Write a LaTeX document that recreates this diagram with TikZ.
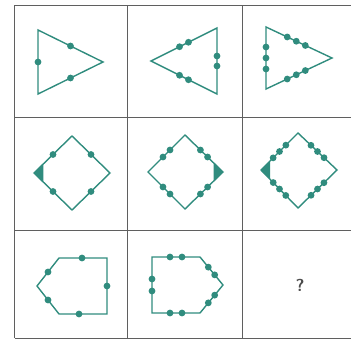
\documentclass[tikz,border=0pt]{standalone}
\usepackage{tikz}
\usetikzlibrary{calc}
\definecolor{figteal}{RGB}{48,140,126}
\definecolor{gridgray}{RGB}{95,95,95}

% dots centred on the middle of edge #1--#2, shifted by the offsets in #3
\newcommand{\edgedots}[3]{%
    \foreach \d in {#3} {
        \fill[figteal] ($(#1)!0.5!(#2)!\d pt!(#2)$) circle (3.4pt);
    }}

\begin{document}
\begin{tikzpicture}[x=1pt, y=-1pt]
    \tikzstyle{grid} = [draw=gridgray, line width=1pt]
    \tikzstyle{figure} = [draw=figteal, line width=1.4pt, line join=miter]

    \useasboundingbox (0,0) rectangle (351,340);

    % grid
    \foreach \x in {14.5, 127.5, 242} {
        \draw[grid] (\x,5) -- (\x,338);
    }
    \foreach \y in {5, 117, 230, 338} {
        \draw[grid] (14.5,\y) -- (351,\y);
    }

    % row 1
    \coordinate (a1) at (38,30);
    \coordinate (a2) at (103,62);
    \coordinate (a3) at (38,94);
    \draw[figure] (a1) -- (a2) -- (a3) -- cycle;
    \edgedots{a1}{a2}{0}
    \edgedots{a2}{a3}{0}
    \edgedots{a3}{a1}{0}

    \coordinate (b1) at (151,61);
    \coordinate (b2) at (217,28);
    \coordinate (b3) at (217,94);
    \draw[figure] (b1) -- (b2) -- (b3) -- cycle;
    \edgedots{b1}{b2}{-5,5}
    \edgedots{b2}{b3}{-5,5}
    \edgedots{b3}{b1}{-5,5}

    \coordinate (c1) at (266,27);
    \coordinate (c2) at (332,58);
    \coordinate (c3) at (266,89);
    \draw[figure] (c1) -- (c2) -- (c3) -- cycle;
    \edgedots{c1}{c2}{-13,-3,7}
    \edgedots{c2}{c3}{-7,3,13}
    \edgedots{c3}{c1}{-11,0,11}

    % row 2
    \coordinate (d1) at (72,136);
    \coordinate (d2) at (110,173);
    \coordinate (d3) at (72,210);
    \coordinate (d4) at (34,173);
    \fill[figteal] (d4) -- ($(d4)!13pt!(d1)$) -- ($(d4)!13pt!(d3)$) -- cycle;
    \draw[figure] (d1) -- (d2) -- (d3) -- (d4) -- cycle;
    \edgedots{d1}{d2}{0}
    \edgedots{d2}{d3}{0}
    \edgedots{d3}{d4}{0}
    \edgedots{d4}{d1}{0}

    \coordinate (e1) at (185,135);
    \coordinate (e2) at (223,172);
    \coordinate (e3) at (185,209);
    \coordinate (e4) at (148,172);
    \fill[figteal] (e2) -- ($(e2)!13pt!(e1)$) -- ($(e2)!13pt!(e3)$) -- cycle;
    \draw[figure] (e1) -- (e2) -- (e3) -- (e4) -- cycle;
    \edgedots{e1}{e2}{-5,5}
    \edgedots{e2}{e3}{-5,5}
    \edgedots{e3}{e4}{-5,5}
    \edgedots{e4}{e1}{-5,5}

    \coordinate (f1) at (298,133);
    \coordinate (f2) at (337,170);
    \coordinate (f3) at (298,208);
    \coordinate (f4) at (261,170);
    \fill[figteal] (f4) -- ($(f4)!13pt!(f1)$) -- ($(f4)!13pt!(f3)$) -- cycle;
    \draw[figure] (f1) -- (f2) -- (f3) -- (f4) -- cycle;
    \edgedots{f1}{f2}{-9,0,9}
    \edgedots{f2}{f3}{-9,0,9}
    \edgedots{f3}{f4}{-9,0,9}
    \edgedots{f4}{f1}{-9,0,9}

    % row 3
    \coordinate (g1) at (59,258);
    \coordinate (g2) at (107,258);
    \coordinate (g3) at (107,314);
    \coordinate (g4) at (59,314);
    \coordinate (g5) at (37,286);
    \draw[figure] (g1) -- (g2) -- (g3) -- (g4) -- (g5) -- cycle;
    \edgedots{g1}{g2}{-1}
    \edgedots{g2}{g3}{0}
    \edgedots{g3}{g4}{4}
    \edgedots{g4}{g5}{0}
    \edgedots{g5}{g1}{0}

    \coordinate (h1) at (152,257);
    \coordinate (h2) at (200,257);
    \coordinate (h3) at (223,285);
    \coordinate (h4) at (200,313);
    \coordinate (h5) at (152,313);
    \draw[figure] (h1) -- (h2) -- (h3) -- (h4) -- (h5) -- cycle;
    \edgedots{h1}{h2}{-6,6}
    \edgedots{h2}{h3}{-5,5}
    \edgedots{h3}{h4}{-5,5}
    \edgedots{h4}{h5}{-6,6}
    \edgedots{h5}{h1}{-6,6}

    \node[font=\sffamily\bfseries\LARGE, text=gridgray!80!black] (ask) at (300,285) {?};
\end{tikzpicture}
\end{document}
